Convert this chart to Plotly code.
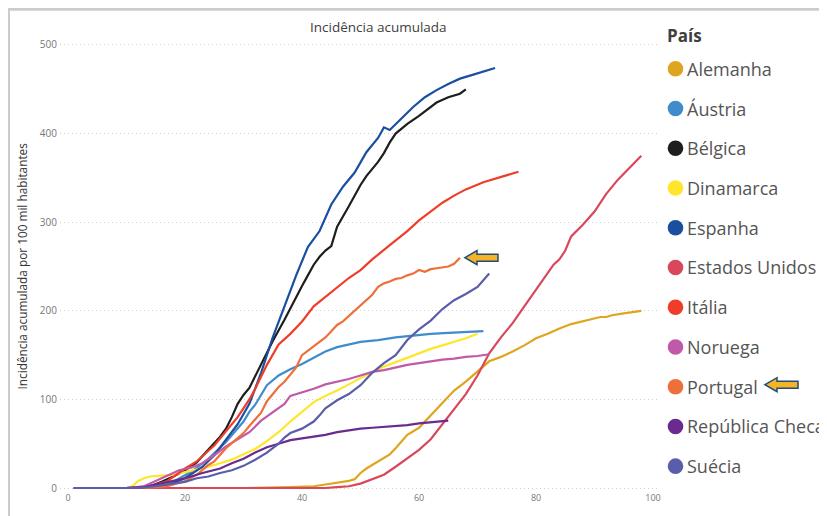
import plotly.graph_objects as go

# ---------------- data ----------------
paises = ["Alemanha", "Áustria", "Bélgica", "Dinamarca", "Espanha", "Estados Unidos",
          "Itália", "Noruega", "Portugal", "República Checa", "Suécia"]
cores = ["#DDA61E", "#3F8BCB", "#1E1E1E", "#FFE52C", "#1A4FA0", "#D9485A",
         "#EE3E2A", "#C05AA8", "#EF6F3A", "#6A2A8E", "#5A5DAA"]

alemanha_dias = [1, 30, 38, 42, 44, 46, 48, 49, 50, 51, 52, 54, 55, 56, 57, 58, 60, 62, 64, 66, 68, 70, 72, 74,
                 76, 78, 80, 82, 84, 86, 88, 90, 91, 92, 93, 95, 97, 98]
alemanha_vals = [0, 0, 1, 2, 4, 6, 8, 10, 17, 22, 26, 34, 38, 45, 52, 60, 68, 82, 96, 110, 120, 132, 143, 148,
                 154, 161, 169, 174, 180, 185, 188, 191, 193, 193, 195, 197, 199, 200]

austria_dias = [1, 12, 15, 18, 21, 24, 27, 29, 30, 31, 32, 34, 36, 38, 40, 42, 44, 46, 48, 50, 53, 56, 59, 62, 65, 68, 71]
austria_vals = [0, 0, 2, 7, 18, 33, 52, 68, 75, 86, 94, 116, 127, 134, 140, 147, 154, 159, 162, 165, 167, 170, 172,
                174, 175, 176, 177]

belgica_dias = [1, 10, 14, 16, 18, 20, 22, 24, 26, 27, 28, 29, 30, 31, 33, 35, 37, 38, 40, 41, 42, 43, 44, 45, 46,
                48, 50, 51, 53, 54, 55, 56, 58, 60, 62, 63, 65, 67, 68]
belgica_vals = [0, 0, 2, 7, 13, 20, 29, 43, 58, 67, 80, 95, 105, 113, 140, 166, 190, 203, 228, 240, 252, 261, 268,
                273, 295, 318, 342, 352, 368, 378, 390, 400, 411, 420, 430, 435, 441, 445, 450]

dinamarca_dias = [1, 10, 11, 12, 13, 14, 16, 18, 20, 22, 24, 26, 28, 30, 32, 34, 36, 38, 40, 42, 44, 46, 48, 50, 52,
                  54, 56, 58, 60, 62, 64, 66, 68, 70]
dinamarca_vals = [0, 0, 2, 8, 11, 13, 14, 15, 18, 21, 24, 28, 32, 38, 44, 53, 63, 75, 86, 97, 104, 110, 117, 124, 131,
                  137, 142, 147, 152, 157, 161, 165, 169, 174]

espanha_dias = [1, 10, 14, 17, 20, 23, 25, 27, 29, 31, 33, 35, 37, 39, 41, 43, 45, 47, 49, 51, 53, 54, 55, 57, 59,
                61, 63, 65, 67, 69, 71, 73]
espanha_vals = [0, 0, 1, 3, 11, 24, 37, 55, 72, 95, 130, 170, 205, 240, 272, 290, 320, 340, 356, 379, 395, 407, 404,
                417, 430, 441, 449, 456, 462, 466, 470, 474]

estados_unidos_dias = [1, 44, 46, 48, 50, 52, 54, 56, 58, 60, 62, 64, 66, 68, 70, 72, 74, 76, 78, 80, 82, 83, 84, 85,
                       86, 87, 88, 90, 92, 94, 96, 98]
estados_unidos_vals = [0, 0, 1, 2, 5, 10, 15, 24, 33, 43, 55, 72, 88, 106, 127, 152, 170, 186, 205, 224, 242, 252, 258,
                       268, 284, 290, 297, 312, 332, 348, 362, 375]

italia_dias = [1, 10, 14, 17, 20, 22, 24, 25, 27, 29, 31, 32, 34, 36, 38, 40, 42, 44, 46, 48, 50, 52, 55, 58, 60, 62,
               64, 66, 68, 71, 74, 77]
italia_vals = [0, 0, 2, 8, 22, 30, 42, 48, 64, 80, 100, 112, 139, 162, 174, 188, 205, 216, 226, 237, 246, 258, 274,
               290, 302, 312, 322, 330, 337, 345, 351, 357]

noruega_dias = [1, 10, 13, 15, 17, 19, 21, 23, 25, 27, 29, 31, 33, 35, 37, 38, 40, 42, 44, 46, 48, 50, 52, 54, 56, 58,
                60, 62, 64, 66, 68, 70, 72]
noruega_vals = [0, 0, 2, 8, 14, 20, 23, 28, 37, 47, 55, 63, 76, 85, 95, 104, 108, 112, 117, 120, 123, 127, 131, 133,
                136, 139, 141, 143, 145, 146, 148, 149, 151]

portugal_dias = [1, 12, 15, 17, 20, 22, 24, 25, 27, 29, 30, 31, 33, 34, 35, 36, 37, 38, 39, 40, 41, 42, 43, 44, 45,
                 46, 47, 48, 49, 50, 51, 52, 53, 54, 55, 56, 57, 58, 59, 60, 61, 62, 63, 64, 65, 66, 67]
portugal_vals = [0, 0, 1, 2, 8, 15, 26, 30, 45, 56, 62, 70, 85, 98, 106, 114, 120, 128, 136, 150, 155, 160, 164, 170,
                 177, 184, 188, 194, 200, 207, 213, 218, 227, 231, 233, 236, 237, 240, 242, 246, 244, 247, 248, 249,
                 250, 253, 260]

republica_checa_dias = [1, 10, 13, 16, 20, 23, 26, 28, 30, 32, 34, 36, 38, 40, 42, 44, 46, 48, 50, 52, 54, 56, 58, 60,
                        62, 64, 65]
republica_checa_vals = [0, 0, 1, 5, 11, 17, 22, 28, 33, 40, 46, 50, 54, 56, 58, 60, 63, 65, 67, 68, 69, 70, 71, 73,
                        74, 75, 76]

suecia_dias = [1, 12, 15, 18, 20, 22, 24, 26, 28, 30, 32, 34, 36, 37, 38, 40, 42, 43, 44, 46, 48, 50, 52, 54, 56, 58,
               60, 62, 64, 66, 68, 70, 72]
suecia_vals = [0, 0, 2, 5, 7, 11, 13, 17, 20, 25, 32, 40, 50, 57, 62, 67, 75, 82, 90, 99, 106, 116, 130, 141, 150,
               167, 179, 189, 202, 212, 219, 227, 242]

y_ticks = [0, 100, 200, 300, 400, 500]
x_ticks = [0, 20, 40, 60, 80, 100]

series = [
    (alemanha_dias, alemanha_vals), (austria_dias, austria_vals), (belgica_dias, belgica_vals),
    (dinamarca_dias, dinamarca_vals), (espanha_dias, espanha_vals),
    (estados_unidos_dias, estados_unidos_vals), (italia_dias, italia_vals),
    (noruega_dias, noruega_vals), (portugal_dias, portugal_vals),
    (republica_checa_dias, republica_checa_vals), (suecia_dias, suecia_vals),
]

# ---------------- geometry ----------------
# The page body has an 8px margin, so the figure starts at screen (8, 8).
OFF = 8
W, H = 827 - OFF, 516 - OFF
L, R, T, B = 60, 658, 40, 494          # plot area edges in screen px
PW, PH = R - L, B - T


def px_x(px):
    return (px - L) / PW


def px_y(py):
    return (B - py) / PH


FONT = "Open Sans"
fig = go.Figure()

for nome, cor, (d, v) in zip(paises, cores, series):
    fig.add_trace(go.Scatter(x=d, y=v, mode="lines", name=nome,
                             line=dict(color=cor, width=2.2), showlegend=False))

fig.update_layout(
    width=W, height=H,
    margin=dict(l=L - OFF, r=W - (R - OFF), t=T - OFF, b=H - (B - OFF), pad=0),
    plot_bgcolor="white", paper_bgcolor="white",
    font=dict(family=FONT, color="#777777"),
    xaxis=dict(range=[-1.37, 100.85], tickvals=x_ticks, showgrid=False, zeroline=False,
               showline=False, ticks="", tickfont=dict(size=9, color="#777777")),
    yaxis=dict(range=[-3.36, 505.6], tickvals=y_ticks, showgrid=True, gridcolor="#cfcfcf",
               griddash="1px,3px", gridwidth=1, zeroline=False, showline=False, ticks="",
               ticklabelstandoff=2, tickfont=dict(size=10, color="#777777")),
    showlegend=False,
)

annotations = [
    dict(text="Incidência acumulada", xref="paper", yref="paper", x=px_x(378), y=px_y(27),
         xanchor="center", yanchor="middle", showarrow=False,
         font=dict(family=FONT, size=13.5, color="#404040")),
    dict(text="Incidência acumulada por 100 mil habitantes", xref="paper", yref="paper",
         x=px_x(22), y=px_y(268), xanchor="center", yanchor="middle", textangle=-90,
         showarrow=False, font=dict(family=FONT, size=11.8, color="#333333")),
    dict(text="<b>País</b>", xref="paper", yref="paper", x=px_x(665), y=px_y(35),
         xanchor="left", yanchor="middle", showarrow=False,
         font=dict(family=FONT, size=17, color="#404040")),
]

shapes = [
    # light frame of the original visual (top and left edges)
    dict(type="line", xref="paper", yref="paper", x0=px_x(8), x1=px_x(830), y0=px_y(9), y1=px_y(9),
         line=dict(color="#cccccc", width=3)),
    dict(type="line", xref="paper", yref="paper", x0=px_x(9), x1=px_x(9), y0=px_y(9), y1=px_y(520),
         line=dict(color="#cccccc", width=2)),
]

# manual legend with round markers
for i, (nome, cor) in enumerate(zip(paises, cores)):
    yc = 69 + 40 * i
    shapes.append(dict(type="circle", xref="paper", yref="paper",
                       xsizemode="pixel", ysizemode="pixel",
                       xanchor=px_x(675.5), yanchor=px_y(yc),
                       x0=-7.8, x1=7.8, y0=-7.8, y1=7.8,
                       fillcolor=cor, line=dict(color=cor, width=0)))
    annotations.append(dict(text=nome, xref="paper", yref="paper", x=px_x(685), y=px_y(yc),
                            xanchor="left", yanchor="middle", showarrow=False,
                            font=dict(family=FONT, size=18, color="#555555")))

arrow_path = "M 0,0 L 12,7 L 12,3.5 L 33,3.5 L 33,-3.5 L 12,-3.5 L 12,-7 Z"
arrow_path_offset = "M 5,0 L 17,7 L 17,3.5 L 38,3.5 L 38,-3.5 L 17,-3.5 L 17,-7 Z"
arrow_style = dict(fillcolor="#F5B325", line=dict(color="#1F4E79", width=1.5))

# arrow next to the end of the Portugal line
shapes.append(dict(type="path", xref="x", yref="y", xsizemode="pixel", ysizemode="pixel",
                   xanchor=portugal_dias[-1], yanchor=portugal_vals[-1],
                   path=arrow_path_offset, **arrow_style))
# arrow next to Portugal in the legend
shapes.append(dict(type="path", xref="paper", yref="paper", xsizemode="pixel", ysizemode="pixel",
                   xanchor=px_x(765), yanchor=px_y(387), path=arrow_path, **arrow_style))

fig.update_layout(annotations=annotations, shapes=shapes)

fig.write_html("out.html")
